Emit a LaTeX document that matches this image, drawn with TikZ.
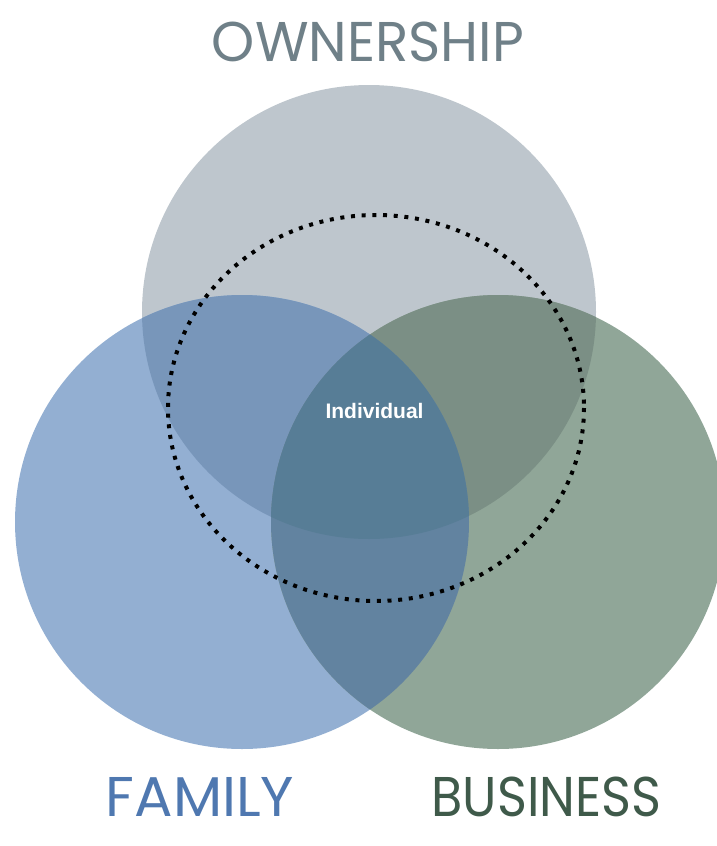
\documentclass[tikz,border=0pt]{standalone}
\usepackage{fontspec}
\setmainfont{Poppins}
\newfontfamily\smallsans{Liberation Sans}
\definecolor{ownC}{HTML}{BEC6CD}
\definecolor{famC}{HTML}{93AFD2}
\definecolor{busC}{HTML}{90A698}
\definecolor{ofC}{HTML}{7896BA}
\definecolor{obC}{HTML}{7B8F85}
\definecolor{fbC}{HTML}{6283A0}
\definecolor{allC}{HTML}{577D96}
\definecolor{ownT}{HTML}{6F8088}
\definecolor{famT}{HTML}{4F78B0}
\definecolor{busT}{HTML}{3F5A4A}
\begin{document}
\begin{tikzpicture}[x=1pt,y=-1pt,
  setlabel/.style={inner sep=0pt,font=\fontsize{56}{56}\selectfont},
  dotring/.style={line width=4pt,dash pattern=on 4pt off 6.7pt}]
 \useasboundingbox (0,0) rectangle (716,846);
 \coordinate (own) at (369,312);
 \coordinate (fam) at (242,522);
 \coordinate (bus) at (498,522);
 \coordinate (ind) at (376,408);
 % the three sets
 \fill[ownC] (own) circle (227);
 \fill[famC] (fam) circle (227);
 \fill[busC] (bus) circle (227);
 % overlaps
 \begin{scope}
  \clip (own) circle (227);
  \fill[ofC] (fam) circle (227);
  \fill[obC] (bus) circle (227);
 \end{scope}
 \begin{scope}
  \clip (fam) circle (227);
  \fill[fbC] (bus) circle (227);
 \end{scope}
 \begin{scope}
  \clip (own) circle (227);
  \clip (fam) circle (227);
  \fill[allC] (bus) circle (227);
 \end{scope}
 \draw[dotring] (ind) ellipse [x radius=208, y radius=193];
 \node[font=\smallsans\bfseries\fontsize{21}{21}\selectfont,text=white,inner sep=0pt] (indiv) at (374.5,410.5) {Individual};
 % labels
 \node[setlabel,text=ownT,xscale=0.98] (ownership) at (368,42) {OWNERSHIP};
 \node[setlabel,text=famT,xscale=1.02] (family) at (200,797) {FAMILY};
 \node[setlabel,text=busT,xscale=0.91] (business) at (546.5,797) {BUSINESS};
\end{tikzpicture}
\end{document}
